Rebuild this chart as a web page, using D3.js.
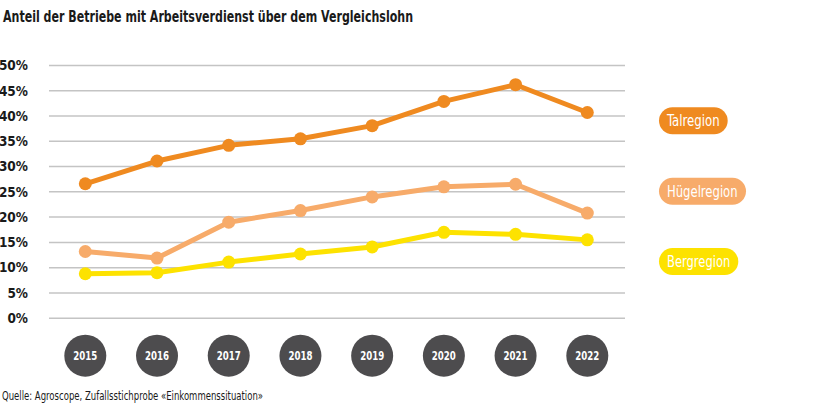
<!DOCTYPE html>
<html><head><meta charset="utf-8">
<script src="https://cdn.jsdelivr.net/npm/d3@7"></script>
<style>body{margin:0;background:#fff}svg{display:block}</style>
</head><body>
<svg id="c" width="836" height="405"></svg>
<script>
const years = ["2015","2016","2017","2018","2019","2020","2021","2022"];
const talregion = [26.5, 31.0, 34.1, 35.4, 38.0, 42.8, 46.1, 40.6];
const huegelregion = [13.1, 11.8, 18.9, 21.2, 23.9, 25.9, 26.4, 20.7];
const bergregion = [8.7, 8.9, 11.0, 12.6, 14.0, 16.9, 16.5, 15.4];
const seriesNames = ["Talregion", "Hügelregion", "Bergregion"];
const seriesColors = ["#ef8a20", "#f7ab6a", "#fde200"];
const yTicks = [0, 5, 10, 15, 20, 25, 30, 35, 40, 45, 50];
const title = "Anteil der Betriebe mit Arbeitsverdienst über dem Vergleichslohn";
const source = "Quelle: Agroscope, Zufallsstichprobe «Einkommenssituation»";

const seriesData = [talregion, huegelregion, bergregion];
const FONT = "'DejaVu Sans Condensed','Liberation Sans Narrow','Roboto',sans-serif";

const svg = d3.select("#c");
const x = d3.scalePoint().domain(years).range([85.3, 587.3]);
const y = d3.scaleLinear().domain([0, 50]).range([317.7, 65]);

svg.append("text").attr("x", 3).attr("y", 22).text(title)
  .attr("textLength", 410).attr("lengthAdjust", "spacingAndGlyphs")
  .attr("font-family", FONT).attr("font-weight", "bold").attr("font-size", 15.5).attr("fill", "#1a1a1a");

// grid
const yAxis = d3.axisLeft(y).tickValues(yTicks).tickSize(-(625 - 49)).tickFormat(d => d + "%");
const g = svg.append("g").attr("transform", "translate(49,0)").call(yAxis);
g.select(".domain").remove();
g.selectAll(".tick line").attr("stroke", "#c4c4c4").attr("stroke-width", 1.5);
g.selectAll(".tick text").attr("x", -21).attr("dy", "0.35em")
  .attr("font-family", FONT).attr("font-weight", "bold").attr("font-size", 13.5).attr("fill", "#1a1a1a");

// lines
const line = d3.line().x((d, i) => x(years[i])).y(d => y(d));
seriesData.forEach((s, k) => {
  svg.append("path").datum(s).attr("d", line).attr("fill", "none")
    .attr("stroke", seriesColors[k]).attr("stroke-width", 5).attr("stroke-linejoin", "round");
  svg.selectAll(null).data(s).enter().append("circle")
    .attr("cx", (d, i) => x(years[i])).attr("cy", d => y(d)).attr("r", 6.5)
    .attr("fill", seriesColors[k]);
});

// year circles
const yc = svg.append("g").selectAll("g").data(years).enter().append("g")
  .attr("transform", d => `translate(${x(d)},355.7)`);
yc.append("circle").attr("r", 21).attr("fill", "#4d4c4e");
yc.append("text").text(d => d).attr("text-anchor", "middle").attr("dy", "0.36em")
  .attr("textLength", 24).attr("lengthAdjust", "spacingAndGlyphs")
  .attr("font-family", FONT).attr("font-weight", "bold").attr("font-size", 12).attr("fill", "#fff");

// legend pills
const legendY = [120.7, 191.3, 261.5];
const legendW = [68.7, 87, 79.3];
const legendTextW = [52.6, 70.6, 63.3];
seriesNames.forEach((n, k) => {
  const lg = svg.append("g").attr("transform", `translate(659,${legendY[k]})`);
  lg.append("rect").attr("x", 0).attr("y", -13.5).attr("width", legendW[k]).attr("height", 27)
    .attr("rx", 13.5).attr("fill", seriesColors[k]);
  lg.append("text").attr("x", 8).attr("dy", "0.36em").text(n)
    .attr("textLength", legendTextW[k]).attr("lengthAdjust", "spacingAndGlyphs")
    .attr("font-family", FONT).attr("font-size", 15).attr("fill", "#fff");
});

svg.append("text").attr("x", 2).attr("y", 400).text(source)
  .attr("textLength", 261).attr("lengthAdjust", "spacingAndGlyphs")
  .attr("font-family", FONT).attr("font-size", 11.5).attr("fill", "#1a1a1a");
</script>
</body></html>
